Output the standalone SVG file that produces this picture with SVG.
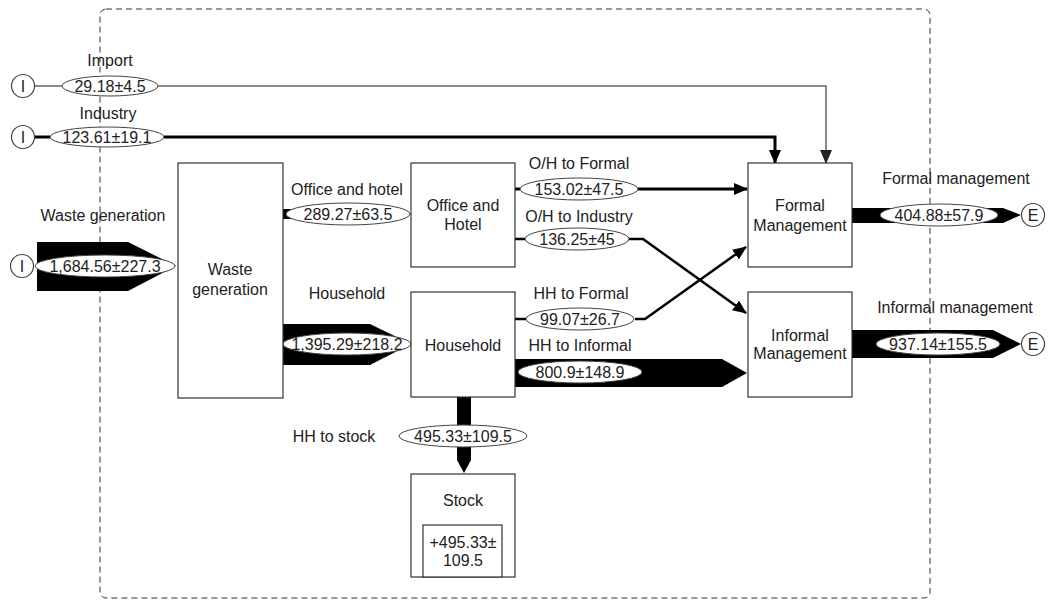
<svg xmlns="http://www.w3.org/2000/svg" width="1050" height="600" viewBox="0 0 1050 600">
<style>
text{font-family:"Liberation Sans",Arial,sans-serif;font-size:16px;fill:#222;text-anchor:middle;dominant-baseline:central}
.box{fill:#fff;stroke:#333;stroke-width:1.2}
.ell{fill:#fff;stroke:#444;stroke-width:1}
.circ{fill:#fff;stroke:#444;stroke-width:1.2}
.flow{fill:#000;stroke:none}
.thin{fill:none;stroke:#666;stroke-width:1.5}
.thick{fill:none;stroke:#000;stroke-width:3}
.mid{fill:none;stroke:#000;stroke-width:2.5}
</style>
<defs>
<marker id="ah" markerUnits="userSpaceOnUse" markerWidth="14" markerHeight="12" refX="13" refY="6" orient="auto">
<path d="M0,0 L14,6 L0,12 Z" fill="#000"/>
</marker>
<marker id="ahg" markerUnits="userSpaceOnUse" markerWidth="14" markerHeight="12" refX="13" refY="6" orient="auto">
<path d="M0,0 L14,6 L0,12 Z" fill="#222"/>
</marker>
</defs>
<rect width="1050" height="600" fill="#fff"/>
<rect id="boundary" x="100" y="9" width="830" height="589" rx="6" fill="none" stroke="#333" stroke-width="1" stroke-dasharray="6,4"/>

<g id="connectors">
<path class="thin" d="M34,86 H62 M158,86 H826 V163" marker-end="url(#ahg)"/>
<path class="thick" d="M34,137 H50 M164,137 H775 V163" marker-end="url(#ah)"/>
<polygon class="flow" points="37,242 128,242 176,266 128,291 37,291"/>
<polygon class="flow" points="283,209 398,209 411,214 398,219 283,219"/>
<polygon class="flow" points="283,324 370,324 411,344 370,365 283,365"/>
<path class="thick" d="M515,189 H520 M638,189 H747" marker-end="url(#ah)"/>
<path class="mid" d="M515,239 H525 M629,239 H643 L746,313" marker-end="url(#ah)"/>
<path class="mid" d="M515,319 H526 M635,319 H645 L746,247" marker-end="url(#ah)"/>
<polygon class="flow" points="515,359 722,359 747,373 722,387 515,387"/>
<polygon class="flow" points="457,397 471,397 471,460 464,473 457,460"/>
<polygon class="flow" points="852,208 1003,208 1021,215 1003,223 852,223"/>
<polygon class="flow" points="852,330 993,330 1021,344 993,358 852,358"/>
</g>

<g id="labels">
<text x="110" y="60">Import</text>
<text x="108" y="113">Industry</text>
<text x="103" y="215">Waste generation</text>
<text x="347" y="189">Office and hotel</text>
<text x="347" y="293">Household</text>
<text x="579" y="163">O/H to Formal</text>
<text x="579" y="216">O/H to Industry</text>
<text x="581" y="293">HH to Formal</text>
<text x="580" y="345">HH to Informal</text>
<text x="334" y="436">HH to stock</text>
<text x="956" y="178">Formal management</text>
<text x="955" y="307">Informal management</text>
</g>

<g id="values">
<ellipse class="ell" cx="110" cy="86" rx="48" ry="10"/><text x="110" y="86">29.18±4.5</text>
<ellipse class="ell" cx="107" cy="137" rx="57" ry="10"/><text x="107" y="137">123.61±19.1</text>
<ellipse class="ell" cx="105" cy="266" rx="70" ry="11"/><text x="105" y="266">1,684.56±227.3</text>
<ellipse class="ell" cx="348" cy="214" rx="62" ry="11"/><text x="348" y="214">289.27±63.5</text>
<ellipse class="ell" cx="347" cy="344" rx="64" ry="11"/><text x="347" y="344">1,395.29±218.2</text>
<ellipse class="ell" cx="579" cy="189" rx="59" ry="11"/><text x="579" y="189">153.02±47.5</text>
<ellipse class="ell" cx="577" cy="239" rx="52" ry="11"/><text x="577" y="239">136.25±45</text>
<ellipse class="ell" cx="580" cy="319" rx="54" ry="11"/><text x="580" y="319">99.07±26.7</text>
<ellipse class="ell" cx="580" cy="372" rx="62" ry="11"/><text x="580" y="372">800.9±148.9</text>
<ellipse class="ell" cx="463" cy="436" rx="64" ry="11"/><text x="463" y="436">495.33±109.5</text>
<ellipse class="ell" cx="939" cy="215" rx="59" ry="11"/><text x="939" y="215">404.88±57.9</text>
<ellipse class="ell" cx="938" cy="344" rx="62" ry="11"/><text x="938" y="344">937.14±155.5</text>
</g>

<g id="src-import"><circle class="circ" cx="23" cy="86" r="11.5"/><text x="23" y="86">I</text></g>
<g id="src-industry"><circle class="circ" cx="23" cy="137" r="11.5"/><text x="23" y="137">I</text></g>
<g id="src-waste"><circle class="circ" cx="22" cy="266" r="11.5"/><text x="22" y="266">I</text></g>
<g id="exp-formal"><circle class="circ" cx="1033" cy="215" r="11.5"/><text x="1033" y="215">E</text></g>
<g id="exp-informal"><circle class="circ" cx="1033" cy="344" r="11.5"/><text x="1033" y="344">E</text></g>

<g id="waste-generation"><rect class="box" x="178" y="163" width="105" height="235"/><text x="230" y="269">Waste</text><text x="230" y="289">generation</text></g>
<g id="office-hotel"><rect class="box" x="411" y="163" width="104" height="104"/><text x="463" y="205">Office and</text><text x="463" y="224">Hotel</text></g>
<g id="household"><rect class="box" x="411" y="292" width="104" height="105"/><text x="463" y="345">Household</text></g>
<g id="formal-management"><rect class="box" x="748" y="163" width="104" height="104"/><text x="800" y="205">Formal</text><text x="800" y="225">Management</text></g>
<g id="informal-management"><rect class="box" x="748" y="292" width="104" height="105"/><text x="800" y="335">Informal</text><text x="800" y="353">Management</text></g>
<g id="stock"><rect class="box" x="411" y="474" width="104" height="103"/><text x="463" y="500">Stock</text><rect class="box" x="423" y="525" width="79" height="52"/><text x="463" y="542">+495.33±</text><text x="463" y="560">109.5</text></g>
</svg>
